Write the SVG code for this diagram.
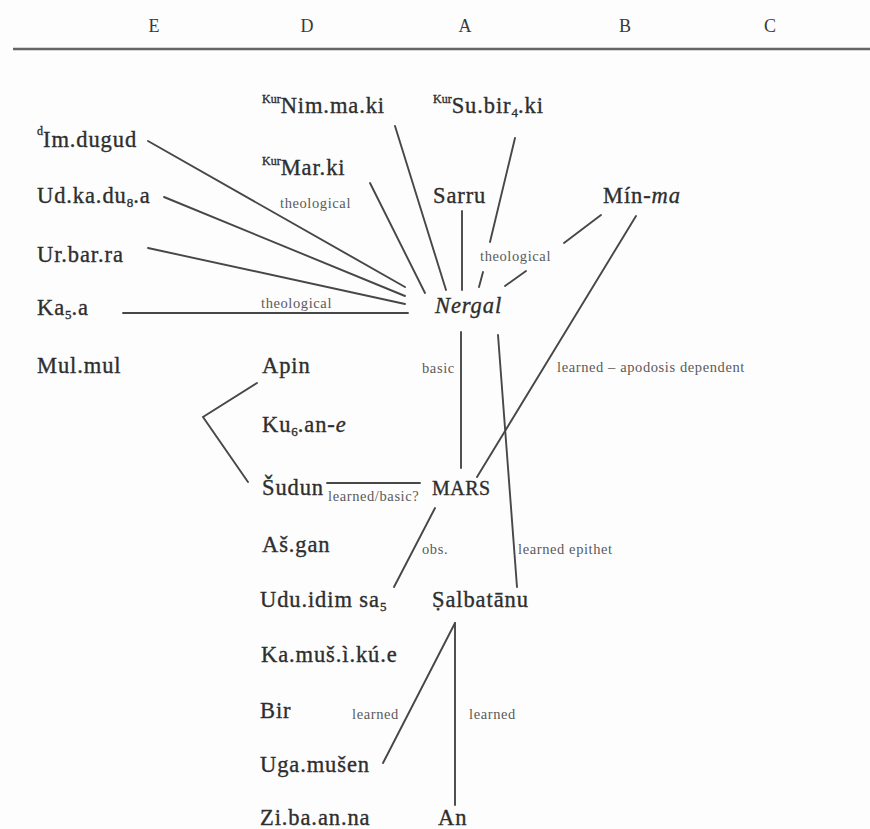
<svg xmlns="http://www.w3.org/2000/svg" width="870" height="829" viewBox="0 0 870 829">
<style>
.hd{font-family:"Liberation Serif","Times New Roman",serif;font-size:18px;fill:#3a3a3a;text-anchor:middle}
.t{font-family:"Liberation Serif","Times New Roman",serif;font-size:22.5px;letter-spacing:0.9px;fill:#2e2e2e;stroke:#2e2e2e;stroke-width:0.35px}
.s{font-family:"Liberation Serif","Times New Roman",serif;font-size:14.5px;letter-spacing:0.6px;fill:#5a5a5a}
.sup{font-size:12px;letter-spacing:0}
.sub{font-size:13px;letter-spacing:0}
.i{font-style:italic}
.c line,.c polyline{stroke:#474747;stroke-width:1.9;fill:none;stroke-linecap:round}
</style>
<rect width="870" height="829" fill="#fdfdfd"/>
<g id="header">
<text class="hd" x="154" y="32">E</text>
<text class="hd" x="307" y="32">D</text>
<text class="hd" x="465" y="32">A</text>
<text class="hd" x="625" y="32">B</text>
<text class="hd" x="770" y="32">C</text>
<line x1="13" y1="49" x2="870" y2="49" stroke="#666" stroke-width="2.5"/>
</g>
<g class="c" id="connectors">
<line x1="148" y1="141" x2="405" y2="287"/>
<line x1="164" y1="197" x2="405" y2="296"/>
<line x1="148" y1="248" x2="405" y2="304"/>
<line x1="123" y1="313" x2="408" y2="313"/>
<line x1="370" y1="183" x2="425" y2="293"/>
<line x1="395" y1="126" x2="446" y2="290"/>
<line x1="462" y1="211" x2="462" y2="290"/>
<line x1="515" y1="138" x2="490" y2="242"/>
<line x1="483" y1="272" x2="479" y2="287"/>
<line x1="601" y1="215" x2="564" y2="243"/>
<line x1="526" y1="271" x2="505" y2="286"/>
<line x1="636" y1="216" x2="477" y2="477"/>
<line x1="461" y1="332" x2="461" y2="468"/>
<line x1="498" y1="335" x2="517" y2="587"/>
<line x1="327" y1="483" x2="420" y2="483"/>
<polyline points="257,383 203,417 248,482"/>
<line x1="435" y1="508" x2="394" y2="587"/>
<line x1="455" y1="623" x2="383" y2="763"/>
<line x1="455" y1="623" x2="455" y2="805"/>
</g>
<g id="edge-labels">
<text class="s" x="280" y="208">theological</text>
<text class="s" x="261" y="308">theological</text>
<text class="s" x="480" y="261">theological</text>
<text class="s" x="422" y="373">basic</text>
<text class="s" x="557" y="372">learned – apodosis dependent</text>
<text class="s" x="328" y="501">learned/basic?</text>
<text class="s" x="422" y="554">obs.</text>
<text class="s" x="518" y="554">learned epithet</text>
<text class="s" x="352" y="719">learned</text>
<text class="s" x="469" y="719">learned</text>
</g>
<g id="n-nimmaki"><text class="t" x="262" y="113"><tspan class="sup" dy="-10">Kur</tspan><tspan dy="10">Nim.ma.ki</tspan></text></g>
<g id="n-subirki"><text class="t" x="433" y="113"><tspan class="sup" dy="-10">Kur</tspan><tspan dy="10">Su.bir</tspan><tspan class="sub" dy="4">4</tspan><tspan dy="-4">.ki</tspan></text></g>
<g id="n-imdugud"><text class="t" x="37" y="147"><tspan class="sup" dy="-12">d</tspan><tspan dy="12">Im.dugud</tspan></text></g>
<g id="n-marki"><text class="t" x="262" y="175"><tspan class="sup" dy="-10">Kur</tspan><tspan dy="10">Mar.ki</tspan></text></g>
<g id="n-udkadua"><text class="t" x="37" y="203">Ud.ka.du<tspan class="sub" dy="4">8</tspan><tspan dy="-4">.a</tspan></text></g>
<g id="n-sarru"><text class="t" x="433" y="203">Sarru</text></g>
<g id="n-minma"><text class="t" x="603" y="203">Mín-<tspan class="i">ma</tspan></text></g>
<g id="n-urbarra"><text class="t" x="37" y="262">Ur.bar.ra</text></g>
<g id="n-kaa"><text class="t" x="37" y="315">Ka<tspan class="sub" dy="4">5</tspan><tspan dy="-4">.a</tspan></text></g>
<g id="n-nergal"><text class="t i" x="435" y="313">Nergal</text></g>
<g id="n-mulmul"><text class="t" x="37" y="373">Mul.mul</text></g>
<g id="n-apin"><text class="t" x="262" y="373">Apin</text></g>
<g id="n-kuane"><text class="t" x="262" y="432">Ku<tspan class="sub" dy="4">6</tspan><tspan dy="-4">.an-</tspan><tspan class="i">e</tspan></text></g>
<g id="n-sudun"><text class="t" x="262" y="495">Šudun</text></g>
<g id="n-mars"><text class="t" x="432" y="495" style="font-size:20px;letter-spacing:0.5px">MARS</text></g>
<g id="n-asgan"><text class="t" x="262" y="552">Aš.gan</text></g>
<g id="n-uduidim"><text class="t" x="260" y="607">Udu.idim sa<tspan class="sub" dy="4">5</tspan></text></g>
<g id="n-salbatanu"><text class="t" x="432" y="607">Ṣalbatānu</text></g>
<g id="n-kamus"><text class="t" x="261" y="662">Ka.muš.ì.kú.e</text></g>
<g id="n-bir"><text class="t" x="260" y="718">Bir</text></g>
<g id="n-ugamusen"><text class="t" x="260" y="772">Uga.mušen</text></g>
<g id="n-zibaanna"><text class="t" x="260" y="825">Zi.ba.an.na</text></g>
<g id="n-an"><text class="t" x="438" y="825">An</text></g>
</svg>
